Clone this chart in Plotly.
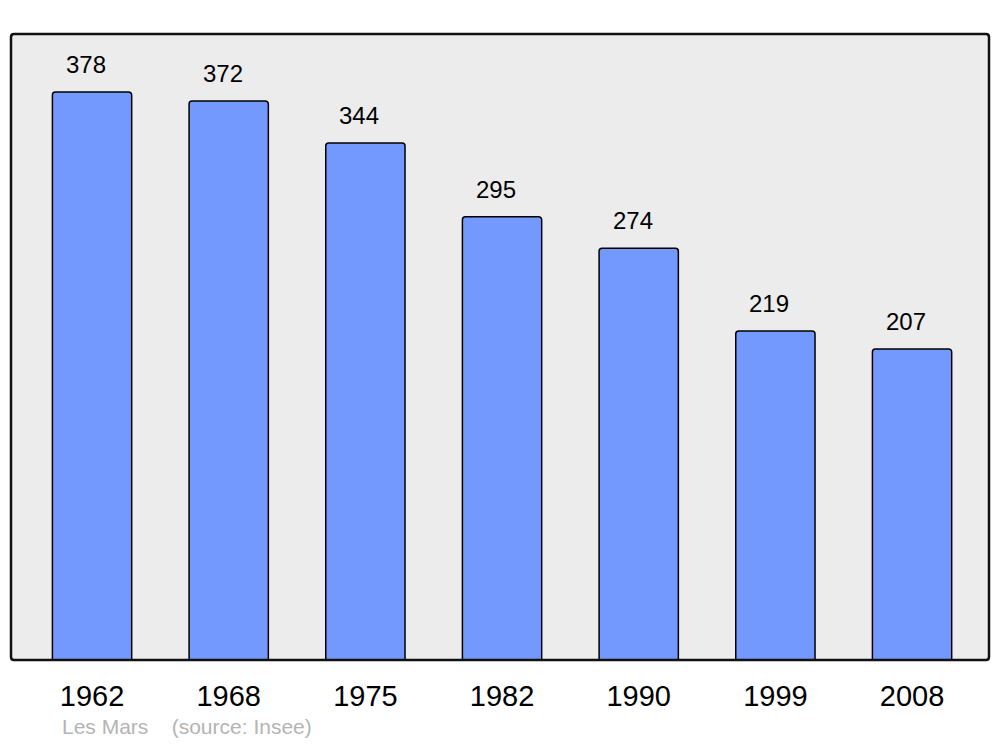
import plotly.graph_objects as go

years = ["1962", "1968", "1975", "1982", "1990", "1999", "2008"]
population = [378, 372, 344, 295, 274, 219, 207]
commune = "Les Mars"
source = "(source: Insee)"

# the page body has an 8px margin, so the figure is sized to fit inside it
W, H = 984, 731
ml, mr, mt, mb = 3, 3, 26, 79
pw, ph = W - ml - mr, H - mt - mb

fig = go.Figure()
fig.add_trace(go.Bar(
    x=years, y=population, width=0.58,
    marker=dict(color="#7399ff", line=dict(color="black", width=1.5), cornerradius=3),
    hoverinfo="skip",
))

# value labels above bars (x given as category index)
for i, v in enumerate(population):
    fig.add_annotation(x=i, y=v, text=str(v), showarrow=False, yanchor="bottom",
                       xshift=-6, yshift=12,
                       font=dict(family="Liberation Sans, Arial", size=24, color="black"))

fig.add_annotation(xref="paper", yref="paper", x=50 / pw, y=-66 / ph,
                   xanchor="left", yanchor="middle", showarrow=False, borderpad=0,
                   text=commune + "\u00a0" * 4 + source,
                   font=dict(family="Liberation Sans, Arial", size=21, color="#b4b4b4"))

# rounded frame around the plot area
r = 3
rx, ry = r / pw, r / ph
path = (f"M {rx} 0 L {1 - rx} 0 Q 1 0 1 {ry} L 1 {1 - ry} Q 1 1 {1 - rx} 1 "
        f"L {rx} 1 Q 0 1 0 {1 - ry} L 0 {ry} Q 0 0 {rx} 0 Z")
fig.add_shape(type="path", xref="paper", yref="paper", path=path,
              line=dict(color="#111111", width=2.5), layer="above")

fig.update_layout(
    width=W, height=H,
    margin=dict(l=ml, r=mr, t=mt, b=mb),
    paper_bgcolor="white", plot_bgcolor="#ececec",
    showlegend=False,
    font=dict(family="Liberation Sans, Arial", color="black"),
)
fig.update_xaxes(type="category", range=[-0.593, 6.563], showgrid=False, zeroline=False,
                 showline=False, ticks="", ticklabelstandoff=16,
                 tickfont=dict(size=29, color="black"))
fig.update_yaxes(range=[0, 416.6], visible=False, showgrid=False)

fig.write_html("out.html")
